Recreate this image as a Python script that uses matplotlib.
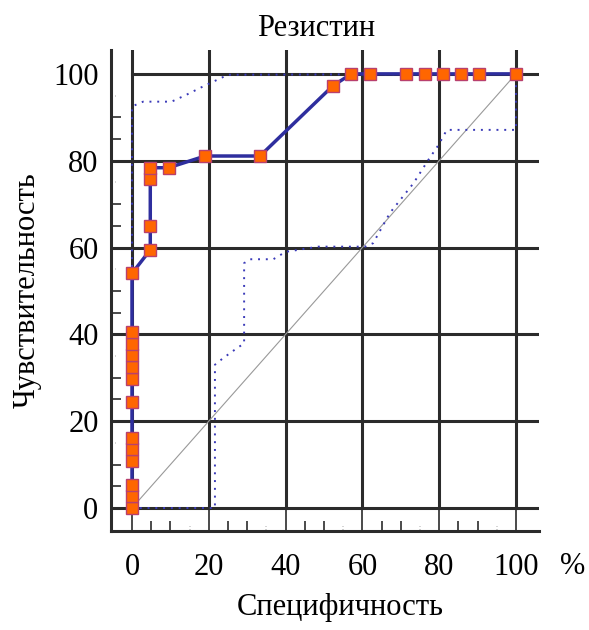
import matplotlib.pyplot as plt
from matplotlib.transforms import blended_transform_factory

# ROC curve, % (x = 100 - specificity, y = sensitivity)
roc_x = [0, 0, 0, 0, 0, 0, 0, 0, 0, 0, 0, 0, 0,
         4.76, 4.76, 4.76, 4.76, 9.52, 19.05, 33.33, 52.38,
         57.14, 61.9, 71.43, 76.19, 80.95, 85.71, 90.48, 100]
roc_y = [0, 2.7, 5.41, 10.81, 13.51, 16.22, 24.32, 29.73, 32.43, 35.14, 37.84, 40.54, 54.05,
         59.46, 64.86, 75.68, 78.38, 78.38, 81.08, 81.08, 97.3,
         100, 100, 100, 100, 100, 100, 100, 100]

# confidence bounds (dotted)
upper_x = [0, 0, 2.9, 10.3, 14.2, 18.5, 25, 100]
upper_y = [0, 92.5, 93.6, 93.6, 95.2, 97.1, 99.8, 100]
lower_x = [0, 21.6, 21.6, 23.7, 27.3, 29.2, 29.2, 30.7, 36.8, 40, 48.5, 60.7,
           62.8, 67.2, 73.3, 77.2, 79.8, 82, 100, 100]
lower_y = [0, 0, 33, 34.5, 36.8, 37.9, 56.4, 57.3, 57.3, 59, 60.2, 60.2,
           61, 68, 74.8, 80.2, 83.6, 87.1, 87.1, 100]

ticks = [0, 20, 40, 60, 80, 100]
tick_labels = ['0', '20', '40', '60', '80', '100']

plt.rcParams['font.family'] = ['Liberation Serif', 'DejaVu Serif']

fig = plt.figure(figsize=(5.89, 6.30), dpi=100)
ax = fig.add_axes([111/589, 99/630, 428/589, 481/630])
xmin, xmax = -5.47, 106.0
ymin, ymax = -5.3, 105.5
ax.set_xlim(xmin, xmax)
ax.set_ylim(ymin, ymax)

dark = '#2b2b2b'
for s in ['top', 'right']:
    ax.spines[s].set_visible(False)
for s in ['left', 'bottom']:
    ax.spines[s].set_color(dark)
    ax.spines[s].set_linewidth(2.2)

# grid
y0 = (0 - ymin) / (ymax - ymin)
x0 = (0 - xmin) / (xmax - xmin)
for t in ticks:
    ax.axvline(t, ymin=y0, ymax=1, color=dark, lw=2.2, zorder=1)
    if t < 100:
        ax.axhline(t, xmin=0, xmax=1, color=dark, lw=2.2, zorder=1)
    else:
        ax.axhline(t, xmin=x0, xmax=1, color=dark, lw=2.2, zorder=1)

# faint ticks at 15, 35, ...
bx = blended_transform_factory(ax.transData, ax.transAxes)
by = blended_transform_factory(ax.transAxes, ax.transData)
for t in [15, 35, 55, 75, 95]:
    ax.plot([t, t], [0, 0.01], transform=bx, color='#aaaaaa', lw=1.2, ls=':', clip_on=False)
    ax.plot([0, 0.012], [t, t], transform=by, color='#aaaaaa', lw=1.2, ls=':', clip_on=False)

ax.set_xticks(ticks)
ax.set_xticklabels(tick_labels)
ax.set_yticks(ticks)
ax.set_yticklabels(tick_labels)
minor = [v for v in range(5, 100, 5) if v % 20 in (5, 10)]
ax.set_xticks(minor, minor=True)
ax.set_yticks(minor, minor=True)
ax.tick_params(axis='x', which='major', direction='in', length=16.5, width=1.2,
               color=dark, pad=16, labelsize=22)
ax.tick_params(axis='y', which='major', direction='in', length=0, pad=9, labelsize=22)
ax.tick_params(which='minor', direction='in', length=7.2, width=1.2, color=dark)

# diagonal reference
ax.plot([0, 100], [0, 100], color='#999999', lw=0.8, zorder=2)

# confidence bounds
ax.plot(upper_x, upper_y, color='#3a3ab8', lw=1.4, ls=(0, (1, 3)), zorder=3)
ax.plot(lower_x, lower_y, color='#3a3ab8', lw=1.4, ls=(0, (1, 3)), zorder=3)

# ROC
ax.plot(roc_x, roc_y, color='#2e2e9e', lw=2.5, marker='s', markersize=8.8,
        markerfacecolor='#ff6600', markeredgecolor='#b8406e', markeredgewidth=1.0,
        zorder=4, clip_on=False)

fig.text(316/589, 1 - 28/630, 'Резистин', ha='center', va='center', fontsize=22)
fig.text(340/589, 1 - 608/630, 'Специфичность', ha='center', va='center', fontsize=22)
fig.text(27/589, 1 - 290/630, 'Чувствительность', ha='center', va='center',
         rotation=90, fontsize=22)
fig.text(573/589, 1 - 567/630, '%', ha='center', va='center', fontsize=22)

fig.savefig('out.png', dpi=100)
